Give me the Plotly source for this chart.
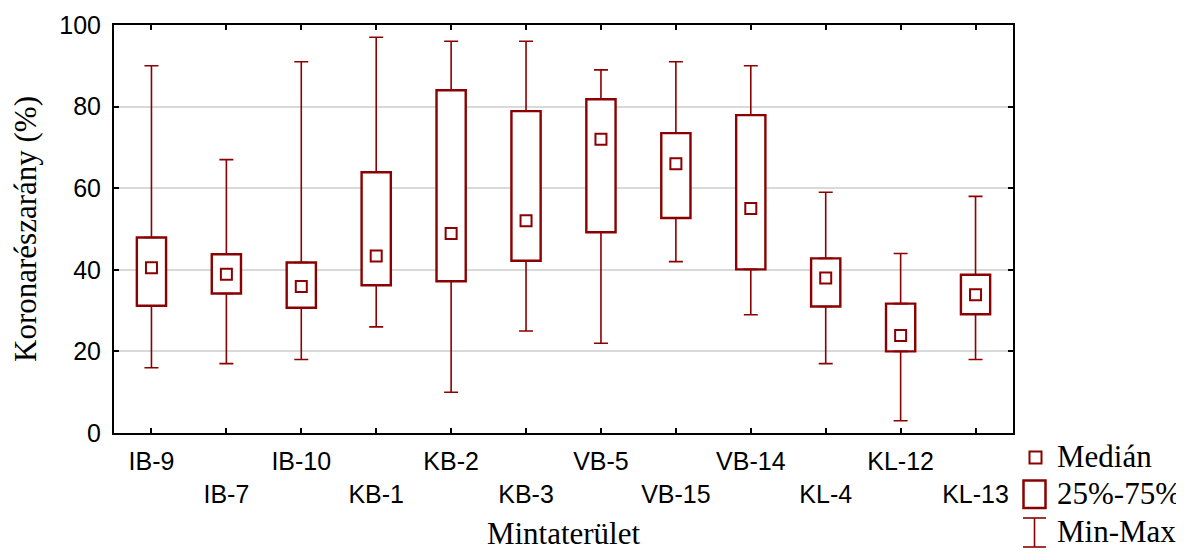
import plotly.graph_objects as go

# ---- data ----
categories = ["IB-9", "IB-7", "IB-10", "KB-1", "KB-2", "KB-3",
              "VB-5", "VB-15", "VB-14", "KL-4", "KL-12", "KL-13"]
minimum = [16, 17, 18, 26, 10, 25, 22, 42, 29, 17, 3, 18]
q1 = [31.2, 34.2, 30.7, 36.2, 37.2, 42.2, 49.2, 52.7, 40.1, 31.0, 20.0, 29.1]
median = [40.5, 38.9, 35.9, 43.4, 48.9, 52.0, 72.0, 66.0, 55.0, 38.0, 23.9, 33.9]
q3 = [47.9, 43.8, 41.8, 63.9, 84.0, 78.9, 81.8, 73.5, 77.9, 42.8, 31.7, 38.8]
maximum = [90, 67, 91, 97, 96, 96, 89, 91, 90, 59, 44, 58]
y_ticks = [0, 20, 40, 60, 80, 100]
legend_labels = ["Medián", "25%-75%", "Min-Max"]
x_title = "Mintaterület"
y_title = "Koronarészarány (%)"

RED = "#8B0000"
SANS = "Liberation Sans, Arial, sans-serif"
SERIF = "Liberation Serif, Times New Roman, serif"

OFF = 8  # default page body margin
W, H = 1184 - OFF, 551 - OFF
ML, MT = 114 - OFF, 25 - OFF
MR = W - (1013 - OFF)
MB = H - (433 - OFF)
PW, PH = W - ML - MR, H - MT - MB

# staggered tick labels (every second one on a second line)
ticktext = [c if i % 2 == 0 else "<br>" + c for i, c in enumerate(categories)]

fig = go.Figure()

# boxes (25%-75%)
fig.add_trace(go.Bar(
    x=categories,
    y=[b - a for a, b in zip(q1, q3)],
    base=q1,
    width=0.39,
    marker=dict(color="white", line=dict(color=RED, width=2.4)),
    showlegend=False, hoverinfo="skip",
))

# upper whiskers
fig.add_trace(go.Scatter(
    x=categories, y=q3, mode="markers",
    marker=dict(color="rgba(0,0,0,0)", size=1),
    error_y=dict(type="data", symmetric=False,
                 array=[m - b for m, b in zip(maximum, q3)],
                 arrayminus=[0] * len(categories),
                 width=7, thickness=1.6, color=RED),
    showlegend=False, hoverinfo="skip",
))
# lower whiskers
fig.add_trace(go.Scatter(
    x=categories, y=q1, mode="markers",
    marker=dict(color="rgba(0,0,0,0)", size=1),
    error_y=dict(type="data", symmetric=False,
                 array=[0] * len(categories),
                 arrayminus=[a - m for a, m in zip(q1, minimum)],
                 width=7, thickness=1.6, color=RED),
    showlegend=False, hoverinfo="skip",
))
# medians
fig.add_trace(go.Scatter(
    x=categories, y=median, mode="markers",
    marker=dict(symbol="square-open", size=11, color=RED, line=dict(width=2)),
    showlegend=False,
))


def px(x):
    return (x - OFF - ML) / PW


def py(y):
    return (H - MB - (y - OFF)) / PH


shapes = []
annotations = []
# legend: median marker
shapes.append(dict(type="rect", xref="paper", yref="paper",
                   x0=px(1029.5), x1=px(1041.5), y0=py(463.5), y1=py(451.5),
                   line=dict(color=RED, width=2), fillcolor="white"))
# legend: box
shapes.append(dict(type="rect", xref="paper", yref="paper",
                   x0=px(1023.5), x1=px(1045.5), y0=py(508), y1=py(480.5),
                   line=dict(color=RED, width=2.5), fillcolor="white"))
# legend: min-max I-beam
shapes.append(dict(type="line", xref="paper", yref="paper",
                   x0=px(1034.5), x1=px(1034.5), y0=py(547), y1=py(518),
                   line=dict(color=RED, width=1.6)))
for yy in (518, 547):
    shapes.append(dict(type="line", xref="paper", yref="paper",
                       x0=px(1023), x1=px(1046), y0=py(yy), y1=py(yy),
                       line=dict(color=RED, width=1.6)))
for label, yy in zip(legend_labels, (456, 494, 531)):
    annotations.append(dict(xref="paper", yref="paper", x=px(1055), y=py(yy),
                            xanchor="left", yanchor="middle", showarrow=False,
                            text=label, font=dict(family=SERIF, size=31, color="black")))

fig.update_layout(
    width=W, height=H,
    margin=dict(l=ML, r=MR, t=MT, b=MB, autoexpand=False),
    plot_bgcolor="white", paper_bgcolor="white",
    showlegend=False,
    shapes=shapes, annotations=annotations,
    xaxis=dict(
        type="category", range=[-0.5, len(categories) - 0.5],
        tickmode="array", tickvals=categories, ticktext=ticktext,
        ticks="inside", ticklen=5, tickwidth=1.5, tickcolor="black",
        showline=True, linecolor="black", linewidth=2, mirror="allticks",
        showgrid=False,
        tickfont=dict(family=SANS, size=25, color="black"),
        ticklabelstandoff=5,
        title=dict(text=x_title, font=dict(family=SERIF, size=31, color="black"),
                   standoff=20),
    ),
    yaxis=dict(
        range=[0, 100], tickmode="array", tickvals=y_ticks,
        ticks="inside", ticklen=5, tickwidth=1.5, tickcolor="black",
        showline=True, linecolor="black", linewidth=2, mirror="allticks",
        showgrid=True, gridcolor="#d9d9d9", gridwidth=1.5, zeroline=False,
        tickfont=dict(family=SANS, size=25, color="black"),
        ticklabelstandoff=6,
        title=dict(text=y_title, font=dict(family=SERIF, size=31, color="black"),
                   standoff=13),
    ),
)

fig.write_html("out.html")
